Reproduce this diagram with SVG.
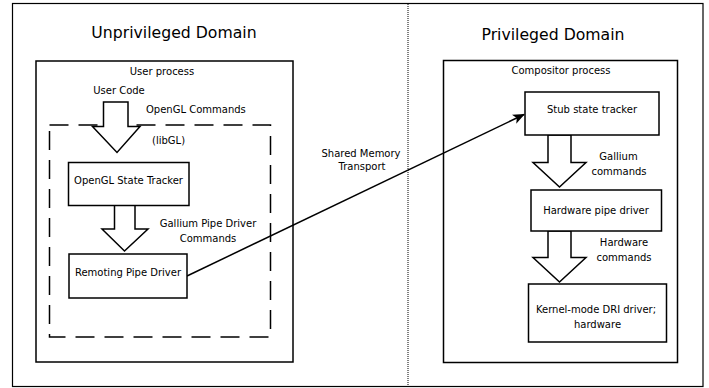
<svg xmlns="http://www.w3.org/2000/svg" width="709" height="388" viewBox="0 0 709 388">
<defs>
<style>
text{font-family:"DejaVu Sans",Verdana,sans-serif;font-size:10px;fill:#000}
.title{font-size:15.7px}
.box{fill:#fff;stroke:#000;stroke-width:1.5}
.frame{fill:none;stroke:#000;stroke-width:1.5}
.barrow{fill:#fff;stroke:#000;stroke-width:1.5;stroke-linejoin:miter}
</style>
<marker id="ah" viewBox="0 0 12 10" refX="11" refY="5" markerWidth="13" markerHeight="10" orient="auto" markerUnits="userSpaceOnUse">
<path d="M0,0 L12,5 L0,10 L3,5 z" fill="#000"/>
</marker>
</defs>
<rect x="0" y="0" width="709" height="388" fill="#fff"/>
<rect x="12.5" y="3.5" width="690.5" height="383" fill="none" stroke="#000" stroke-width="1.2"/>
<line x1="408" y1="4" x2="408" y2="386" stroke="#000" stroke-width="1" stroke-dasharray="1,1"/>

<g id="unpriv">
<text class="title" x="174" y="38" text-anchor="middle">Unprivileged Domain</text>
</g>
<g id="priv">
<text class="title" x="553" y="40" text-anchor="middle">Privileged Domain</text>
</g>

<g id="user-process">
<rect class="frame" x="36" y="61" width="257" height="301"/>
<text x="162" y="75" text-anchor="middle">User process</text>
</g>
<g id="user-code">
<text x="119" y="94" text-anchor="middle">User Code</text>
</g>
<g id="libgl">
<rect x="49.5" y="125" width="221" height="212" fill="none" stroke="#000" stroke-width="1.5" stroke-dasharray="19,10"/>
<text x="152" y="144">(libGL)</text>
</g>

<g id="compositor-process">
<rect class="frame" x="443.5" y="60.5" width="234" height="302"/>
<text x="561" y="74" text-anchor="middle">Compositor process</text>
</g>

<g id="connectors">
<polygon class="barrow" points="103.5,102 128,102 128,126.5 140,126.5 117,152.5 92.5,126.5 103.5,126.5"/>
<text x="146" y="113">OpenGL Commands</text>
<polygon class="barrow" points="114.5,205 135,205 135,229 148,229 124.5,251 102,229 114.5,229"/>
<text x="208" y="227" text-anchor="middle">Gallium Pipe Driver</text>
<text x="208" y="242" text-anchor="middle">Commands</text>
<polygon class="barrow" points="548,135 571,135 571,162.5 586,162.5 559.5,187 533,162.5 548,162.5"/>
<text x="618.5" y="160" text-anchor="middle">Gallium</text>
<text x="619" y="175" text-anchor="middle">commands</text>
<polygon class="barrow" points="548,231 571,231 571,257.5 586,257.5 559.5,282 533,257.5 548,257.5"/>
<text x="624" y="246" text-anchor="middle">Hardware</text>
<text x="624" y="261" text-anchor="middle">commands</text>
<line x1="187" y1="276" x2="524" y2="114.5" stroke="#000" stroke-width="1.5" marker-end="url(#ah)"/>
<text x="361" y="157" text-anchor="middle">Shared Memory</text>
<text x="362" y="170" text-anchor="middle">Transport</text>
</g>

<g id="opengl-state-tracker">
<rect class="box" x="68.5" y="162.5" width="120.5" height="43"/>
<text x="128.5" y="184" text-anchor="middle">OpenGL State Tracker</text>
</g>
<g id="remoting-pipe-driver">
<rect class="box" x="69" y="254" width="118" height="44"/>
<text x="128" y="276" text-anchor="middle">Remoting Pipe Driver</text>
</g>
<g id="stub-state-tracker">
<rect class="box" x="525" y="92" width="134" height="43"/>
<text x="592" y="113" text-anchor="middle">Stub state tracker</text>
</g>
<g id="hardware-pipe-driver">
<rect class="box" x="531" y="190" width="130.5" height="41"/>
<text x="596" y="214" text-anchor="middle">Hardware pipe driver</text>
</g>
<g id="kernel-mode-dri">
<rect class="box" x="528.5" y="284" width="138" height="58"/>
<text x="596" y="312.5" text-anchor="middle">Kernel-mode DRI driver;</text>
<text x="597.5" y="327.5" text-anchor="middle">hardware</text>
</g>
</svg>
